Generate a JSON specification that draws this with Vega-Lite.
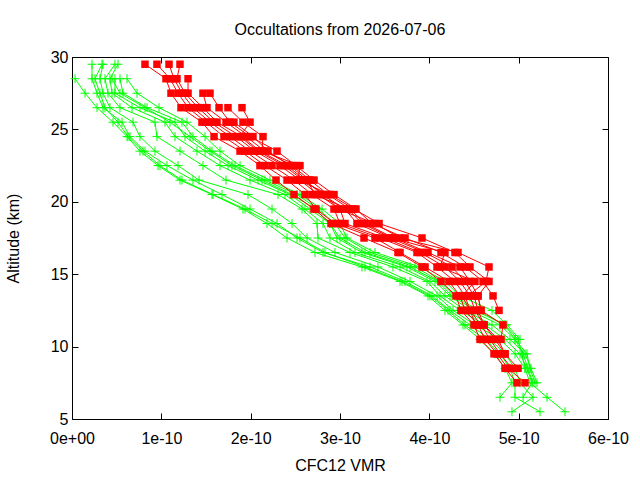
{
 "$schema": "https://vega.github.io/schema/vega-lite/v6.json",
 "width": 536, "height": 362,
 "autosize": "none",
 "padding": {"left": 72, "top": 57, "right": 32, "bottom": 61},
 "background": "white",
 "title": {"text": "Occultations from 2026-07-06", "font": "Liberation Sans", "fontSize": 16, "fontWeight": "normal", "color": "#000", "anchor": "middle", "offset": 11},
 "config": {
  "view": {"stroke": "#000", "strokeWidth": 1},
  "axis": {"labelFont": "Liberation Sans", "titleFont": "Liberation Sans", "labelFontSize": 16, "titleFontSize": 16, "titleFontWeight": "normal", "labelColor": "#000", "titleColor": "#000", "domain": false, "grid": false, "tickColor": "#000", "tickSize": -6}
 },
 "datasets": {
  "green": [
   {"s":1,"a":28.5,"v":0.034e-10},{"s":1,"a":27.5,"v":0.146e-10},{"s":1,"a":26.5,"v":0.280e-10},{"s":1,"a":25.5,"v":0.459e-10},{"s":1,"a":24.5,"v":0.616e-10},{"s":1,"a":23.5,"v":0.761e-10},{"s":1,"a":22.5,"v":0.963e-10},{"s":1,"a":21.5,"v":1.209e-10},{"s":1,"a":20.5,"v":1.567e-10},{"s":1,"a":19.5,"v":1.914e-10},{"s":1,"a":18.5,"v":2.183e-10},{"s":1,"a":17.5,"v":2.407e-10},{"s":1,"a":16.5,"v":2.720e-10},{"s":1,"a":15.5,"v":3.246e-10},{"s":1,"a":14.5,"v":3.672e-10},{"s":1,"a":13.5,"v":3.985e-10},{"s":1,"a":12.5,"v":4.175e-10},{"s":1,"a":11.5,"v":4.377e-10},{"s":1,"a":10.5,"v":4.567e-10},{"s":1,"a":9.5,"v":4.735e-10},{"s":1,"a":8.5,"v":4.847e-10},{"s":1,"a":7.5,"v":4.925e-10},{"s":1,"a":6.5,"v":4.791e-10},
   {"s":2,"a":29.5,"v":0.224e-10},{"s":2,"a":28.5,"v":0.224e-10},{"s":2,"a":27.5,"v":0.280e-10},{"s":2,"a":26.5,"v":0.347e-10},{"s":2,"a":25.5,"v":0.560e-10},{"s":2,"a":24.5,"v":0.649e-10},{"s":2,"a":23.5,"v":0.817e-10},{"s":2,"a":22.5,"v":1.063e-10},{"s":2,"a":21.5,"v":1.354e-10},{"s":2,"a":20.5,"v":1.679e-10},{"s":2,"a":19.5,"v":1.993e-10},{"s":2,"a":18.5,"v":2.295e-10},{"s":2,"a":17.5,"v":2.519e-10},{"s":2,"a":16.5,"v":2.810e-10},{"s":2,"a":15.5,"v":3.336e-10},{"s":2,"a":14.5,"v":3.728e-10},{"s":2,"a":13.5,"v":4.030e-10},{"s":2,"a":12.5,"v":4.231e-10},{"s":2,"a":11.5,"v":4.455e-10},{"s":2,"a":10.5,"v":4.679e-10},{"s":2,"a":9.5,"v":4.847e-10},{"s":2,"a":8.5,"v":4.959e-10},{"s":2,"a":7.5,"v":5.015e-10},{"s":2,"a":6.5,"v":5.160e-10},{"s":2,"a":5.5,"v":4.925e-10},
   {"s":3,"a":29.5,"v":0.347e-10},{"s":3,"a":28.5,"v":0.313e-10},{"s":3,"a":27.5,"v":0.347e-10},{"s":3,"a":26.5,"v":0.425e-10},{"s":3,"a":25.5,"v":0.683e-10},{"s":3,"a":24.5,"v":0.761e-10},{"s":3,"a":23.5,"v":0.929e-10},{"s":3,"a":22.5,"v":1.187e-10},{"s":3,"a":21.5,"v":1.422e-10},{"s":3,"a":20.5,"v":1.970e-10},{"s":3,"a":19.5,"v":2.239e-10},{"s":3,"a":18.5,"v":2.463e-10},{"s":3,"a":17.5,"v":2.631e-10},{"s":3,"a":16.5,"v":2.944e-10},{"s":3,"a":15.5,"v":3.425e-10},{"s":3,"a":14.5,"v":3.784e-10},{"s":3,"a":13.5,"v":4.086e-10},{"s":3,"a":12.5,"v":4.265e-10},{"s":3,"a":11.5,"v":4.511e-10},{"s":3,"a":10.5,"v":4.791e-10},{"s":3,"a":9.5,"v":4.959e-10},{"s":3,"a":8.5,"v":5.071e-10},{"s":3,"a":7.5,"v":5.127e-10},{"s":3,"a":6.5,"v":5.317e-10},{"s":3,"a":5.5,"v":5.519e-10},
   {"s":4,"a":29.5,"v":0.481e-10},{"s":4,"a":28.5,"v":0.369e-10},{"s":4,"a":27.5,"v":0.403e-10},{"s":4,"a":26.5,"v":0.537e-10},{"s":4,"a":25.5,"v":0.929e-10},{"s":4,"a":24.5,"v":0.951e-10},{"s":4,"a":23.5,"v":1.209e-10},{"s":4,"a":22.5,"v":1.466e-10},{"s":4,"a":21.5,"v":1.724e-10},{"s":4,"a":20.5,"v":2.306e-10},{"s":4,"a":19.5,"v":2.575e-10},{"s":4,"a":18.5,"v":2.743e-10},{"s":4,"a":17.5,"v":2.754e-10},{"s":4,"a":16.5,"v":3.112e-10},{"s":4,"a":15.5,"v":3.593e-10},{"s":4,"a":14.5,"v":3.974e-10},{"s":4,"a":13.5,"v":4.119e-10},{"s":4,"a":12.5,"v":4.343e-10},{"s":4,"a":11.5,"v":4.623e-10},{"s":4,"a":10.5,"v":4.847e-10},{"s":4,"a":9.5,"v":5.015e-10},{"s":4,"a":8.5,"v":5.093e-10},{"s":4,"a":7.5,"v":5.149e-10},{"s":4,"a":6.5,"v":5.049e-10},
   {"s":5,"a":29.5,"v":0.515e-10},{"s":5,"a":28.5,"v":0.425e-10},{"s":5,"a":27.5,"v":0.448e-10},{"s":5,"a":26.5,"v":0.672e-10},{"s":5,"a":25.5,"v":1.041e-10},{"s":5,"a":24.5,"v":1.153e-10},{"s":5,"a":23.5,"v":1.399e-10},{"s":5,"a":22.5,"v":1.657e-10},{"s":5,"a":21.5,"v":1.993e-10},{"s":5,"a":20.5,"v":2.384e-10},{"s":5,"a":19.5,"v":2.608e-10},{"s":5,"a":18.5,"v":2.810e-10},{"s":5,"a":17.5,"v":2.888e-10},{"s":5,"a":16.5,"v":3.168e-10},{"s":5,"a":15.5,"v":3.672e-10},{"s":5,"a":14.5,"v":4.007e-10},{"s":5,"a":13.5,"v":4.175e-10},{"s":5,"a":12.5,"v":4.399e-10},{"s":5,"a":11.5,"v":4.701e-10},{"s":5,"a":10.5,"v":4.903e-10},{"s":5,"a":9.5,"v":5.071e-10},{"s":5,"a":8.5,"v":5.138e-10},{"s":5,"a":7.5,"v":5.205e-10},
   {"s":6,"a":28.5,"v":0.481e-10},{"s":6,"a":27.5,"v":0.481e-10},{"s":6,"a":26.5,"v":0.761e-10},{"s":6,"a":25.5,"v":1.153e-10},{"s":6,"a":24.5,"v":1.265e-10},{"s":6,"a":23.5,"v":1.489e-10},{"s":6,"a":22.5,"v":1.746e-10},{"s":6,"a":21.5,"v":2.082e-10},{"s":6,"a":20.5,"v":2.440e-10},{"s":6,"a":19.5,"v":2.664e-10},{"s":6,"a":18.5,"v":2.888e-10},{"s":6,"a":17.5,"v":2.966e-10},{"s":6,"a":16.5,"v":3.246e-10},{"s":6,"a":15.5,"v":3.750e-10},{"s":6,"a":14.5,"v":4.063e-10},{"s":6,"a":13.5,"v":4.231e-10},{"s":6,"a":12.5,"v":4.455e-10},{"s":6,"a":11.5,"v":4.791e-10},{"s":6,"a":10.5,"v":4.959e-10},{"s":6,"a":9.5,"v":5.093e-10},{"s":6,"a":8.5,"v":5.127e-10},{"s":6,"a":7.5,"v":5.183e-10},
   {"s":7,"a":28.5,"v":0.537e-10},{"s":7,"a":27.5,"v":0.571e-10},{"s":7,"a":26.5,"v":0.840e-10},{"s":7,"a":25.5,"v":1.231e-10},{"s":7,"a":24.5,"v":1.354e-10},{"s":7,"a":23.5,"v":1.567e-10},{"s":7,"a":22.5,"v":1.825e-10},{"s":7,"a":21.5,"v":2.160e-10},{"s":7,"a":20.5,"v":2.519e-10},{"s":7,"a":19.5,"v":2.754e-10},{"s":7,"a":18.5,"v":2.944e-10},{"s":7,"a":17.5,"v":3.056e-10},{"s":7,"a":16.5,"v":3.336e-10},{"s":7,"a":15.5,"v":3.840e-10},{"s":7,"a":14.5,"v":4.119e-10},{"s":7,"a":13.5,"v":4.287e-10},{"s":7,"a":12.5,"v":4.545e-10},{"s":7,"a":11.5,"v":4.847e-10},{"s":7,"a":10.5,"v":4.993e-10},{"s":7,"a":9.5,"v":5.037e-10},{"s":7,"a":8.5,"v":5.071e-10},
   {"s":8,"a":28.5,"v":0.616e-10},{"s":8,"a":27.5,"v":0.728e-10},{"s":8,"a":26.5,"v":0.974e-10},{"s":8,"a":25.5,"v":1.287e-10},{"s":8,"a":24.5,"v":1.489e-10},{"s":8,"a":23.5,"v":1.657e-10},{"s":8,"a":22.5,"v":1.881e-10},{"s":8,"a":21.5,"v":2.216e-10},{"s":8,"a":20.5,"v":2.552e-10},{"s":8,"a":19.5,"v":2.799e-10},{"s":8,"a":18.5,"v":3.000e-10},{"s":8,"a":17.5,"v":3.078e-10},{"s":8,"a":16.5,"v":3.392e-10},{"s":8,"a":15.5,"v":3.896e-10},{"s":8,"a":14.5,"v":4.175e-10},{"s":8,"a":13.5,"v":4.343e-10},{"s":8,"a":12.5,"v":4.701e-10},{"s":8,"a":11.5,"v":4.869e-10},{"s":8,"a":10.5,"v":5.015e-10},
   {"s":9,"a":29.5,"v":0.336e-10},{"s":9,"a":28.5,"v":0.257e-10},{"s":9,"a":27.5,"v":0.313e-10},{"s":9,"a":26.5,"v":0.369e-10},{"s":9,"a":25.5,"v":0.515e-10},{"s":9,"a":24.5,"v":0.627e-10},{"s":9,"a":23.5,"v":0.795e-10},{"s":9,"a":22.5,"v":0.985e-10},{"s":9,"a":21.5,"v":1.231e-10},{"s":9,"a":20.5,"v":1.578e-10},{"s":9,"a":19.5,"v":1.937e-10},{"s":9,"a":18.5,"v":2.239e-10},{"s":9,"a":17.5,"v":2.552e-10},{"s":9,"a":16.5,"v":2.832e-10},{"s":9,"a":15.5,"v":3.280e-10},{"s":9,"a":14.5,"v":3.694e-10},{"s":9,"a":13.5,"v":4.007e-10},{"s":9,"a":12.5,"v":4.209e-10},{"s":9,"a":11.5,"v":4.399e-10},{"s":9,"a":10.5,"v":4.623e-10},{"s":9,"a":9.5,"v":4.791e-10},{"s":9,"a":8.5,"v":4.903e-10},{"s":9,"a":7.5,"v":4.959e-10},{"s":9,"a":6.5,"v":4.959e-10},{"s":9,"a":5.5,"v":5.239e-10},
   {"s":10,"a":28.5,"v":0.448e-10},{"s":10,"a":27.5,"v":0.537e-10},{"s":10,"a":26.5,"v":0.817e-10},{"s":10,"a":25.5,"v":1.097e-10},{"s":10,"a":24.5,"v":1.321e-10},{"s":10,"a":23.5,"v":1.545e-10},{"s":10,"a":22.5,"v":1.791e-10},{"s":10,"a":21.5,"v":2.127e-10},{"s":10,"a":20.5,"v":2.463e-10},{"s":10,"a":19.5,"v":2.720e-10},{"s":10,"a":18.5,"v":2.888e-10},{"s":10,"a":17.5,"v":3.000e-10},{"s":10,"a":16.5,"v":3.280e-10},{"s":10,"a":15.5,"v":3.784e-10},{"s":10,"a":14.5,"v":4.097e-10},{"s":10,"a":13.5,"v":4.254e-10},{"s":10,"a":12.5,"v":4.511e-10},{"s":10,"a":11.5,"v":4.847e-10},{"s":10,"a":10.5,"v":4.959e-10},{"s":10,"a":9.5,"v":5.049e-10},{"s":10,"a":8.5,"v":5.104e-10},{"s":10,"a":7.5,"v":5.160e-10}
  ],
  "red": [
   {"s":1,"a":29.5,"v":0.817e-10},{"s":1,"a":28.5,"v":1.052e-10},{"s":1,"a":27.5,"v":1.108e-10},{"s":1,"a":26.5,"v":1.220e-10},{"s":1,"a":25.5,"v":1.455e-10},{"s":1,"a":24.5,"v":1.590e-10},{"s":1,"a":23.5,"v":1.881e-10},{"s":1,"a":22.5,"v":2.104e-10},{"s":1,"a":21.5,"v":2.284e-10},{"s":1,"a":20.5,"v":2.485e-10},{"s":1,"a":19.5,"v":2.709e-10},{"s":1,"a":18.5,"v":2.899e-10},{"s":1,"a":17.5,"v":3.269e-10},{"s":1,"a":16.5,"v":3.649e-10},{"s":1,"a":15.5,"v":3.918e-10},{"s":1,"a":14.5,"v":4.131e-10},{"s":1,"a":13.5,"v":4.299e-10},{"s":1,"a":12.5,"v":4.354e-10},{"s":1,"a":11.5,"v":4.500e-10},{"s":1,"a":10.5,"v":4.567e-10},{"s":1,"a":9.5,"v":4.724e-10},{"s":1,"a":8.5,"v":4.847e-10},{"s":1,"a":7.5,"v":4.981e-10},
   {"s":2,"a":29.5,"v":0.951e-10},{"s":2,"a":28.5,"v":1.097e-10},{"s":2,"a":27.5,"v":1.187e-10},{"s":2,"a":26.5,"v":1.299e-10},{"s":2,"a":25.5,"v":1.500e-10},{"s":2,"a":24.5,"v":1.701e-10},{"s":2,"a":23.5,"v":1.937e-10},{"s":2,"a":22.5,"v":2.160e-10},{"s":2,"a":21.5,"v":2.407e-10},{"s":2,"a":20.5,"v":2.608e-10},{"s":2,"a":19.5,"v":2.731e-10},{"s":2,"a":18.5,"v":2.944e-10},{"s":2,"a":17.5,"v":3.392e-10},{"s":2,"a":16.5,"v":3.672e-10},{"s":2,"a":15.5,"v":3.952e-10},{"s":2,"a":14.5,"v":4.220e-10},{"s":2,"a":13.5,"v":4.343e-10},{"s":2,"a":12.5,"v":4.399e-10},{"s":2,"a":11.5,"v":4.545e-10},{"s":2,"a":10.5,"v":4.623e-10},{"s":2,"a":9.5,"v":4.757e-10},{"s":2,"a":8.5,"v":4.881e-10},{"s":2,"a":7.5,"v":5.071e-10},
   {"s":3,"a":29.5,"v":1.086e-10},{"s":3,"a":28.5,"v":1.142e-10},{"s":3,"a":27.5,"v":1.231e-10},{"s":3,"a":26.5,"v":1.354e-10},{"s":3,"a":25.5,"v":1.545e-10},{"s":3,"a":24.5,"v":1.769e-10},{"s":3,"a":23.5,"v":1.993e-10},{"s":3,"a":22.5,"v":2.239e-10},{"s":3,"a":21.5,"v":2.485e-10},{"s":3,"a":20.5,"v":2.687e-10},{"s":3,"a":19.5,"v":2.933e-10},{"s":3,"a":18.5,"v":3.000e-10},{"s":3,"a":17.5,"v":3.448e-10},{"s":3,"a":16.5,"v":3.862e-10},{"s":3,"a":15.5,"v":4.086e-10},{"s":3,"a":14.5,"v":4.287e-10},{"s":3,"a":13.5,"v":4.399e-10},{"s":3,"a":12.5,"v":4.455e-10},{"s":3,"a":11.5,"v":4.578e-10},{"s":3,"a":10.5,"v":4.679e-10},{"s":3,"a":9.5,"v":4.791e-10},{"s":3,"a":8.5,"v":4.925e-10},
   {"s":4,"a":29.5,"v":1.209e-10},{"s":4,"a":28.5,"v":1.175e-10},{"s":4,"a":27.5,"v":1.265e-10},{"s":4,"a":26.5,"v":1.410e-10},{"s":4,"a":25.5,"v":1.590e-10},{"s":4,"a":24.5,"v":1.836e-10},{"s":4,"a":23.5,"v":2.049e-10},{"s":4,"a":22.5,"v":2.328e-10},{"s":4,"a":21.5,"v":2.552e-10},{"s":4,"a":20.5,"v":2.754e-10},{"s":4,"a":19.5,"v":3.000e-10},{"s":4,"a":18.5,"v":3.056e-10},{"s":4,"a":17.5,"v":3.504e-10},{"s":4,"a":16.5,"v":3.896e-10},{"s":4,"a":15.5,"v":4.175e-10},{"s":4,"a":14.5,"v":4.343e-10},{"s":4,"a":13.5,"v":4.455e-10},{"s":4,"a":12.5,"v":4.511e-10},{"s":4,"a":11.5,"v":4.612e-10},{"s":4,"a":10.5,"v":4.735e-10},{"s":4,"a":9.5,"v":4.847e-10},{"s":4,"a":8.5,"v":4.993e-10},
   {"s":5,"a":28.5,"v":1.299e-10},{"s":5,"a":27.5,"v":1.299e-10},{"s":5,"a":26.5,"v":1.466e-10},{"s":5,"a":25.5,"v":1.623e-10},{"s":5,"a":24.5,"v":1.903e-10},{"s":5,"a":23.5,"v":2.104e-10},{"s":5,"a":22.5,"v":2.407e-10},{"s":5,"a":21.5,"v":2.608e-10},{"s":5,"a":20.5,"v":2.799e-10},{"s":5,"a":19.5,"v":3.056e-10},{"s":5,"a":18.5,"v":3.190e-10},{"s":5,"a":17.5,"v":3.560e-10},{"s":5,"a":16.5,"v":3.952e-10},{"s":5,"a":15.5,"v":4.254e-10},{"s":5,"a":14.5,"v":4.399e-10},{"s":5,"a":13.5,"v":4.500e-10},{"s":5,"a":12.5,"v":4.545e-10},{"s":5,"a":11.5,"v":4.612e-10},{"s":5,"a":10.5,"v":4.769e-10},{"s":5,"a":9.5,"v":4.847e-10},
   {"s":6,"a":27.5,"v":1.466e-10},{"s":6,"a":26.5,"v":1.511e-10},{"s":6,"a":25.5,"v":1.724e-10},{"s":6,"a":24.5,"v":1.948e-10},{"s":6,"a":23.5,"v":2.160e-10},{"s":6,"a":22.5,"v":2.463e-10},{"s":6,"a":21.5,"v":2.664e-10},{"s":6,"a":20.5,"v":2.866e-10},{"s":6,"a":19.5,"v":3.112e-10},{"s":6,"a":18.5,"v":3.280e-10},{"s":6,"a":17.5,"v":3.604e-10},{"s":6,"a":16.5,"v":3.985e-10},{"s":6,"a":15.5,"v":4.343e-10},{"s":6,"a":14.5,"v":4.455e-10},{"s":6,"a":13.5,"v":4.545e-10},{"s":6,"a":12.5,"v":4.578e-10},{"s":6,"a":11.5,"v":4.825e-10},{"s":6,"a":10.5,"v":4.802e-10},
   {"s":7,"a":27.5,"v":1.545e-10},{"s":7,"a":26.5,"v":1.646e-10},{"s":7,"a":25.5,"v":1.769e-10},{"s":7,"a":24.5,"v":1.993e-10},{"s":7,"a":23.5,"v":2.295e-10},{"s":7,"a":22.5,"v":2.507e-10},{"s":7,"a":21.5,"v":2.709e-10},{"s":7,"a":20.5,"v":2.933e-10},{"s":7,"a":19.5,"v":3.179e-10},{"s":7,"a":18.5,"v":3.358e-10},{"s":7,"a":17.5,"v":3.728e-10},{"s":7,"a":16.5,"v":4.131e-10},{"s":7,"a":15.5,"v":4.399e-10},{"s":7,"a":14.5,"v":4.601e-10},{"s":7,"a":13.5,"v":4.713e-10},{"s":7,"a":12.5,"v":4.780e-10},
   {"s":8,"a":26.5,"v":1.746e-10},{"s":8,"a":25.5,"v":1.914e-10},{"s":8,"a":24.5,"v":2.138e-10},{"s":8,"a":23.5,"v":2.127e-10},{"s":8,"a":22.5,"v":2.552e-10},{"s":8,"a":21.5,"v":2.530e-10},{"s":8,"a":20.5,"v":2.888e-10},{"s":8,"a":19.5,"v":3.157e-10},{"s":8,"a":18.5,"v":3.437e-10},{"s":8,"a":17.5,"v":3.918e-10},{"s":8,"a":16.5,"v":4.287e-10},{"s":8,"a":15.5,"v":4.455e-10},{"s":8,"a":14.5,"v":4.668e-10},{"s":8,"a":13.5,"v":4.545e-10},{"s":8,"a":12.5,"v":4.578e-10},
   {"s":9,"a":26.5,"v":1.903e-10},{"s":9,"a":25.5,"v":1.993e-10},{"s":9,"a":24.5,"v":1.881e-10},{"s":9,"a":23.5,"v":2.082e-10},{"s":9,"a":22.5,"v":2.373e-10},{"s":9,"a":21.5,"v":2.586e-10},{"s":9,"a":20.5,"v":2.832e-10},{"s":9,"a":19.5,"v":2.978e-10},{"s":9,"a":18.5,"v":3.392e-10},{"s":9,"a":17.5,"v":3.672e-10},{"s":9,"a":16.5,"v":4.321e-10},{"s":9,"a":15.5,"v":4.668e-10},{"s":9,"a":14.5,"v":4.634e-10},{"s":9,"a":13.5,"v":4.433e-10},
   {"s":10,"a":25.5,"v":1.813e-10},{"s":10,"a":24.5,"v":2.026e-10},{"s":10,"a":23.5,"v":2.194e-10},{"s":10,"a":22.5,"v":2.440e-10},{"s":10,"a":21.5,"v":2.631e-10},{"s":10,"a":20.5,"v":2.720e-10},{"s":10,"a":19.5,"v":3.090e-10},{"s":10,"a":18.5,"v":3.246e-10},{"s":10,"a":17.5,"v":3.582e-10},{"s":10,"a":16.5,"v":4.175e-10},{"s":10,"a":15.5,"v":4.119e-10},{"s":10,"a":14.5,"v":4.511e-10},{"s":10,"a":13.5,"v":4.366e-10},{"s":10,"a":12.5,"v":4.455e-10},{"s":10,"a":11.5,"v":4.522e-10}
  ]
 },
 "layer": [
  {
   "data": {"name": "green"},
   "mark": {"type": "line", "color": "#00ff00", "strokeWidth": 1},
   "encoding": {
    "x": {"field": "v", "type": "quantitative", "scale": {"domain": [0, 6e-10], "nice": false, "zero": false},
          "axis": {"orient": "bottom", "title": "CFC12 VMR", "values": [0, 1e-10, 2e-10, 3e-10, 4e-10, 5e-10, 6e-10], "labelExpr": "datum.value == 0 ? '0e+00' : format(datum.value * 1e10, 'd') + 'e-10'", "labelPadding": 17, "titlePadding": 11, "labelFlush": false}},
    "y": {"field": "a", "type": "quantitative", "scale": {"domain": [5, 30], "nice": false, "zero": false},
          "axis": {"orient": "left", "title": "Altitude (km)", "values": [5, 10, 15, 20, 25, 30], "labelPadding": 10, "titlePadding": 29, "labelFlush": false}},
    "detail": {"field": "s", "type": "nominal"},
    "order": {"field": "a", "type": "quantitative"}
   }
  },
  {
   "data": {"name": "green"},
   "mark": {"type": "point", "shape": "M-1,0L1,0M0,-1L0,1", "size": 81, "stroke": "#00ff00", "strokeWidth": 1, "filled": false, "opacity": 1},
   "encoding": {
    "x": {"field": "v", "type": "quantitative", "axis": null},
    "y": {"field": "a", "type": "quantitative", "axis": null}
   }
  },
  {
   "data": {"name": "red"},
   "mark": {"type": "line", "color": "#ff0000", "strokeWidth": 1},
   "encoding": {
    "x": {"field": "v", "type": "quantitative", "axis": null},
    "y": {"field": "a", "type": "quantitative", "axis": null},
    "detail": {"field": "s", "type": "nominal"},
    "order": {"field": "a", "type": "quantitative"}
   }
  },
  {
   "data": {"name": "red"},
   "mark": {"type": "square", "size": 56, "color": "#ff0000", "filled": true, "opacity": 1},
   "encoding": {
    "x": {"field": "v", "type": "quantitative", "axis": {"orient": "top", "title": null, "labels": false, "values": [0, 1e-10, 2e-10, 3e-10, 4e-10, 5e-10, 6e-10]}},
    "y": {"field": "a", "type": "quantitative", "axis": {"orient": "right", "title": null, "labels": false, "values": [5, 10, 15, 20, 25, 30]}}
   }
  }
 ],
 "resolve": {"axis": {"x": "independent", "y": "independent"}}
}
